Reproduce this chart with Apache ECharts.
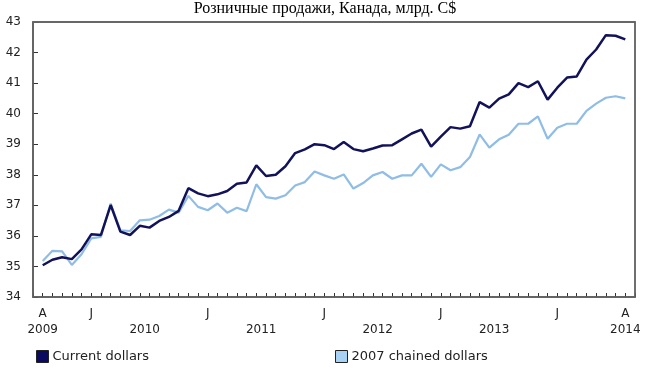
<!DOCTYPE html>
<html>
<head>
<meta charset="utf-8">
<script src="https://cdn.jsdelivr.net/npm/echarts@6/dist/echarts.min.js"></script>
<style>html,body{margin:0;padding:0;background:#fff}#c{width:650px;height:370px}</style>
</head>
<body>
<div id="c"></div>
<script>
const months = [
 '2009-08','2009-09','2009-10','2009-11','2009-12',
 '2010-01','2010-02','2010-03','2010-04','2010-05','2010-06','2010-07','2010-08','2010-09','2010-10','2010-11','2010-12',
 '2011-01','2011-02','2011-03','2011-04','2011-05','2011-06','2011-07','2011-08','2011-09','2011-10','2011-11','2011-12',
 '2012-01','2012-02','2012-03','2012-04','2012-05','2012-06','2012-07','2012-08','2012-09','2012-10','2012-11','2012-12',
 '2013-01','2013-02','2013-03','2013-04','2013-05','2013-06','2013-07','2013-08','2013-09','2013-10','2013-11','2013-12',
 '2014-01','2014-02','2014-03','2014-04','2014-05','2014-06','2014-07','2014-08'
];
const currentDollars = [
 35.04,35.22,35.30,35.24,35.56,36.05,36.03,37.01,36.14,36.03,36.33,36.27,36.49,36.62,36.82,37.56,37.39,37.30,37.36,37.47,37.71,
 37.75,38.31,37.96,38.00,38.28,38.71,38.83,39.00,38.97,38.84,39.07,38.84,38.77,38.86,38.96,38.97,39.16,39.35,39.48,38.92,
 39.25,39.56,39.51,39.59,40.38,40.20,40.49,40.63,41.00,40.87,41.06,40.46,40.85,41.18,41.22,41.77,42.10,42.57,42.55,42.43
];
const chainedDollars = [
 35.18,35.51,35.49,35.05,35.40,35.92,35.97,37.06,36.18,36.16,36.51,36.53,36.65,36.86,36.76,37.31,36.95,36.84,37.06,36.76,36.92,
 36.81,37.69,37.27,37.22,37.33,37.65,37.76,38.11,37.98,37.87,38.01,37.55,37.73,37.98,38.09,37.87,37.98,37.98,38.36,37.93,
 38.34,38.15,38.25,38.58,39.32,38.89,39.16,39.31,39.67,39.67,39.91,39.18,39.54,39.67,39.67,40.09,40.33,40.52,40.57,40.50
];
const seriesNames = ['Current dollars','2007 chained dollars'];
const monthLabelPos = [0,5,17,29,41,53,60];
const monthLabelText = ['A','J','J','J','J','J','A'];
const yearLabelPos = [0,10.5,22.5,34.5,46.5,60];
const yearLabelText = ['2009','2010','2011','2012','2013','2014'];
const yTicks = {min:34, max:43, step:1};
const titleText = 'Розничные продажи, Канада, млрд. C$';

const FONT = 'DejaVu Sans';
const dark = '#12125a', light = '#8fbde6';
const chart = echarts.init(document.getElementById('c'));
const toXY = arr => arr.map((v,i)=>[i,v]);
chart.setOption({
  animation:false,
  backgroundColor:'#fff',
  title:{text:titleText,left:'center',top:0,padding:[1,5,0,5],z:0,
    textStyle:{fontFamily:'Liberation Serif',fontSize:16,fontWeight:'normal',color:'#000'}},
  grid:{left:33,right:15,top:22,bottom:73,show:true,borderColor:'#666',borderWidth:1.5,z:5},
  legend:[
    {data:[{name:seriesNames[0],itemStyle:{color:'#0a0a60'}}],left:31,top:345,icon:'rect',itemWidth:12,itemHeight:12,itemGap:0,
     itemStyle:{borderColor:'#222',borderWidth:1},textStyle:{fontFamily:FONT,fontSize:13,color:'#222',padding:[0,0,0,-1]}},
    {data:[{name:seriesNames[1],itemStyle:{color:'#a8d2f4'}}],left:330,top:345,icon:'rect',itemWidth:12,itemHeight:12,itemGap:0,
     itemStyle:{borderColor:'#222',borderWidth:1},textStyle:{fontFamily:FONT,fontSize:13,color:'#222',padding:[0,0,0,-1]}}
  ],
  xAxis:[
    {type:'value',min:-1,max:61,interval:1,position:'bottom',
     axisLine:{show:true,onZero:false,lineStyle:{color:'#333',width:1.5}},
     axisTick:{show:true,inside:true,length:4,lineStyle:{color:'#333',width:1}},
     splitLine:{show:false},
     axisLabel:{margin:11,fontFamily:FONT,fontSize:12,color:'#222',showMinLabel:true,showMaxLabel:true,
       formatter:v=>{const k=monthLabelPos.indexOf(v);return k>=0?monthLabelText[k]:'';}}},
    {type:'value',min:-1,max:61,interval:1,position:'top',
     axisLine:{show:true,onZero:false,lineStyle:{color:'#666',width:1.5}},
     axisTick:{show:true,length:0},axisLabel:{show:true,color:'rgba(0,0,0,0)',formatter:()=>''},splitLine:{show:false}},
    {type:'value',min:-1,max:61,interval:0.5,position:'bottom',
     axisLine:{show:false,onZero:false},axisTick:{show:false},splitLine:{show:false},
     axisLabel:{margin:27,fontFamily:FONT,fontSize:12,color:'#222',showMinLabel:true,showMaxLabel:true,
       formatter:v=>{const k=yearLabelPos.indexOf(v);return k>=0?yearLabelText[k]:'';}}}
  ],
  yAxis:[
    {type:'value',min:yTicks.min,max:yTicks.max,interval:yTicks.step,position:'left',
    axisLine:{show:true,onZero:false,lineStyle:{color:'#333',width:1.5}},
    axisTick:{show:true,inside:true,length:5,lineStyle:{color:'#333',width:1}},
    splitLine:{show:false},
    axisLabel:{margin:12,fontFamily:FONT,fontSize:12,color:'#222'}},
    {type:'value',min:yTicks.min,max:yTicks.max,interval:yTicks.step,position:'right',
     axisLine:{show:true,onZero:false,lineStyle:{color:'#666',width:1.5}},
     axisTick:{show:false},axisLabel:{show:false},splitLine:{show:false}}
  ],
  series:[
    {name:seriesNames[1],type:'line',xAxisIndex:0,yAxisIndex:0,data:toXY(chainedDollars),showSymbol:false,symbol:'none',
     itemStyle:{color:light},lineStyle:{color:light,width:2.2},z:2},
    {name:seriesNames[0],type:'line',xAxisIndex:0,yAxisIndex:0,data:toXY(currentDollars),showSymbol:false,symbol:'none',
     itemStyle:{color:dark},lineStyle:{color:dark,width:2.5},z:3,
     markLine:{silent:true,symbol:['none','none'],label:{show:false},animation:false,
       lineStyle:{color:'#666',width:1.5,type:'solid'},data:[{yAxis:yTicks.max}]}},
    {name:'frame',type:'line',xAxisIndex:1,yAxisIndex:1,data:[],showSymbol:false,silent:true},
    {name:'years',type:'line',xAxisIndex:2,yAxisIndex:0,data:[],showSymbol:false,silent:true}
  ]
});
</script>
</body>
</html>
